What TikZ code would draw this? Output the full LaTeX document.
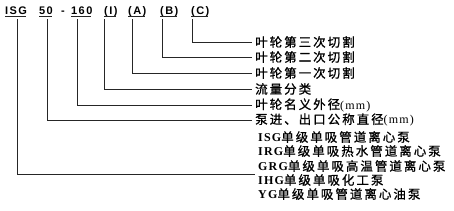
\documentclass[tikz,border=0pt]{standalone}
\usepackage{fontspec}
\newfontfamily\cjk[LetterSpace=16,FakeBold=1]{Noto Sans CJK SC}
\newfontfamily\hdr[LetterSpace=13]{Liberation Sans}
\newfontfamily\lat[LetterSpace=10]{Liberation Serif}
\begin{document}
\begin{tikzpicture}[x=1pt,y=1pt,
  tok/.style={anchor=base west,inner sep=0pt,font=\hdr\fontsize{11}{13}\selectfont\bfseries},
  lab/.style={anchor=west,inner xsep=3pt,inner ysep=0pt,font=\fontsize{12.5}{15}\selectfont},
  conn/.style={line width=0.9pt,black!85},
  ul/.style={line width=0.8pt,black!85}]
\useasboundingbox (0,0) rectangle (454,-210);
% header tokens
\node[tok] (tISG) at (5,-14) {ISG};
\node[tok] (t50) at (39,-14) {50};
\node[tok] (tdash) at (61,-14) {-};
\node[tok] (t160) at (71,-14) {160};
\node[tok] (tI) at (104,-14) {(I)};
\node[tok] (tA) at (128,-14) {(A)};
\node[tok] (tB) at (160,-14) {(B)};
\node[tok] (tC) at (191,-14) {(C)};
\foreach \n in {tISG,t50,t160,tI,tA,tB,tC}
  \draw[ul] ([yshift=-2.7pt]\n.base west) -- ([yshift=-2.7pt,xshift=-1.2pt]\n.base east);
% right labels
\node[lab] (lC) at (252,-42) {\cjk 叶轮第三次切割};
\node[lab] (lB) at (252,-57) {\cjk 叶轮第二次切割};
\node[lab] (lA) at (252,-73) {\cjk 叶轮第一次切割};
\node[lab] (lI) at (252,-89) {\cjk 流量分类};
\node[lab] (l160) at (252,-105) {{\cjk 叶轮名义外径}{\lat\fontsize{12}{14}\selectfont (mm)}};
\node[lab] (l50) at (252,-120) {{\cjk 泵进、出口公称直径}{\lat\fontsize{12}{14}\selectfont (mm)}};
\node[lab] (gISG) at (255,-137) {{\lat\fontsize{12}{14}\selectfont\bfseries ISG}{\cjk 单级单吸管道离心泵}};
\node[lab] (gIRG) at (255,-151) {{\lat\fontsize{12}{14}\selectfont\bfseries IRG}{\cjk 单级单吸热水管道离心泵}};
\node[lab] (gGRG) at (255,-166) {{\lat\fontsize{12}{14}\selectfont\bfseries GRG}{\cjk 单级单吸高温管道离心泵}};
\node[lab] (gIHG) at (255,-180) {{\lat\fontsize{12}{14}\selectfont\bfseries IHG}{\cjk 单级单吸化工泵}};
\node[lab] (gYG) at (255,-194) {{\lat\fontsize{12}{14}\selectfont\bfseries YG}{\cjk 单级单吸管道离心油泵}};
% connectors
\draw[conn] ([shift={(1pt,-5pt)}]tC.base west) |- (lC.west);
\draw[conn] ([shift={(2pt,-5pt)}]tB.base west) |- (lB.west);
\draw[conn] ([shift={(4pt,-5pt)}]tA.base west) |- (lA.west);
\draw[conn] ([shift={(0pt,-5pt)}]tI.base west) |- (lI.west);
\draw[conn] ([shift={(6pt,-5pt)}]t160.base west) |- (l160.west);
\draw[conn] ([shift={(8pt,-5pt)}]t50.base west) |- (l50.west);
\draw[conn] ([shift={(12pt,-5pt)}]tISG.base west) |- ([yshift=-8pt]gGRG.west);
\end{tikzpicture}
\end{document}
